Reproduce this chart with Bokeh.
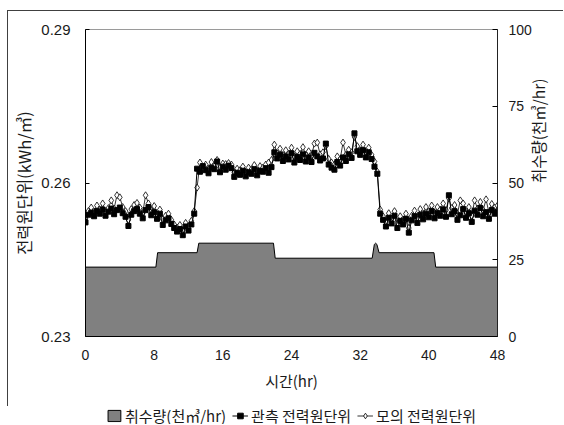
import math

from bokeh.embed import file_html
from bokeh.layouts import column
from bokeh.models import (ColumnDataSource, FixedTicker, Legend, LegendItem,
                          LinearAxis, Range1d)
from bokeh.plotting import figure
from bokeh.resources import INLINE

# Power-unit records, one value every 20 minutes over 48 hours (kWh/m3)
step_minutes = 20

observed = [
    0.2523, 0.2538, 0.2542, 0.2535, 0.2545, 0.2540, 0.2548, 0.2536, 0.2544,
    0.2550, 0.2539, 0.2547, 0.2552, 0.2541, 0.2534, 0.2516, 0.2538, 0.2545,
    0.2549, 0.2540, 0.2531, 0.2547, 0.2553, 0.2537, 0.2543, 0.2530, 0.2540,
    0.2518, 0.2527, 0.2531, 0.2520, 0.2512, 0.2505, 0.2510, 0.2498, 0.2515,
    0.2507, 0.2519, 0.2540, 0.2628, 0.2622, 0.2633, 0.2625, 0.2619, 0.2630,
    0.2627, 0.2642, 0.2621, 0.2632, 0.2626, 0.2634, 0.2629, 0.2612, 0.2620,
    0.2616, 0.2624, 0.2613, 0.2621, 0.2618, 0.2627, 0.2615, 0.2624, 0.2622,
    0.2629, 0.2620, 0.2631, 0.2660, 0.2648, 0.2655, 0.2643, 0.2652, 0.2646,
    0.2658, 0.2640, 0.2651, 0.2645, 0.2656, 0.2642, 0.2650, 0.2641, 0.2659,
    0.2652, 0.2644, 0.2648, 0.2677, 0.2636, 0.2630, 0.2626, 0.2641, 0.2634,
    0.2650, 0.2643, 0.2656, 0.2649, 0.2697, 0.2662, 0.2655, 0.2664, 0.2650,
    0.2660, 0.2647, 0.2632, 0.2618, 0.2540, 0.2528, 0.2515, 0.2532, 0.2521,
    0.2536, 0.2512, 0.2526, 0.2519, 0.2530, 0.2503, 0.2527, 0.2535, 0.2522,
    0.2538, 0.2529, 0.2540, 0.2533, 0.2545, 0.2531, 0.2541, 0.2536, 0.2548,
    0.2534, 0.2576, 0.2539, 0.2545, 0.2528, 0.2537, 0.2549, 0.2532, 0.2541,
    0.2524, 0.2546, 0.2538, 0.2551, 0.2535, 0.2543, 0.2530, 0.2547, 0.2540,
    0.2544,
]

simulated = [
    0.2530, 0.2545, 0.2552, 0.2544, 0.2556, 0.2548, 0.2560, 0.2543, 0.2551,
    0.2566, 0.2550, 0.2576, 0.2572, 0.2553, 0.2545, 0.2528, 0.2549, 0.2557,
    0.2561, 0.2552, 0.2541, 0.2576, 0.2560, 0.2547, 0.2555, 0.2539, 0.2548,
    0.2529, 0.2536, 0.2540, 0.2528, 0.2519, 0.2513, 0.2518, 0.2507, 0.2522,
    0.2515, 0.2526, 0.2545, 0.2591, 0.2640, 0.2628, 0.2636, 0.2627, 0.2641,
    0.2633, 0.2645, 0.2630, 0.2638, 0.2637, 0.2639, 0.2636, 0.2620, 0.2628,
    0.2625, 0.2632, 0.2621, 0.2630, 0.2627, 0.2635, 0.2624, 0.2633, 0.2630,
    0.2636, 0.2640, 0.2645, 0.2675, 0.2658, 0.2667, 0.2655, 0.2664, 0.2657,
    0.2669, 0.2652, 0.2662, 0.2657, 0.2670, 0.2655, 0.2662, 0.2653, 0.2677,
    0.2679, 0.2656, 0.2660, 0.2672, 0.2647, 0.2640, 0.2636, 0.2652, 0.2646,
    0.2679, 0.2655, 0.2665, 0.2660, 0.2690, 0.2672, 0.2664, 0.2675, 0.2661,
    0.2669, 0.2655, 0.2642, 0.2622, 0.2548, 0.2535, 0.2524, 0.2541, 0.2530,
    0.2545, 0.2520, 0.2535, 0.2528, 0.2540, 0.2512, 0.2536, 0.2546, 0.2533,
    0.2549, 0.2540, 0.2553, 0.2545, 0.2556, 0.2542, 0.2553, 0.2548, 0.2560,
    0.2547, 0.2570, 0.2551, 0.2557, 0.2540, 0.2566, 0.2560, 0.2544, 0.2553,
    0.2536, 0.2566, 0.2550, 0.2563, 0.2547, 0.2568, 0.2542, 0.2559, 0.2552,
    0.2556,
]

hours = [i * step_minutes / 60 for i in range(len(observed))]

# Water intake (thousand m3/hr), break points of the stepped profile
flow_hours = [0, 8.2, 8.4, 13.0, 13.2, 21.9, 22.1, 33.4, 33.65, 33.8, 33.95,
              34.2, 40.6, 40.8, 48]
flow_values = [22.6, 22.6, 27.3, 27.3, 30.4, 30.4, 25.5, 25.5, 30.0, 30.4,
               30.0, 27.3, 27.3, 22.6, 22.6]

hour_ticks = [0, 8, 16, 24, 32, 40, 48]
power_ticks = [0.23, 0.26, 0.29]
flow_ticks = [0, 25, 50, 75, 100]

flow_label = "취수량(천㎥/hr)"
obs_label = "관측 전력원단위"
sim_label = "모의 전력원단위"

KO = "Noto Sans CJK KR"
NUM = "Liberation Sans"
INK = "#1a1a1a"

AREA = dict(fill_color="#808080", line_color="black", line_width=1)
OBS_LINE = dict(line_color="black", line_width=1)
OBS_MARK = dict(marker="square", size=5, fill_color="black", line_color="black")
SIM_LINE = dict(line_color="black", line_width=0.8)
SIM_MARK = dict(marker="diamond", size=7, fill_color="white",
                line_color="black", line_width=0.8)

p = figure(
    width=556, height=396,
    min_border_left=77, min_border_right=67,
    min_border_top=18, min_border_bottom=71,
    x_range=Range1d(0, 48), y_range=Range1d(0.23, 0.29),
    output_backend="svg", toolbar_location=None,
)
p.styles = {
    "margin-left": "7px", "margin-top": "10px",
    "border-left": "1px solid #404040", "border-top": "1px solid #404040",
}
p.background_fill_color = "white"
p.border_fill_color = "white"
p.outline_line_color = "#9a9a9a"
p.xgrid.visible = False
p.ygrid.visible = False
p.extra_y_ranges = {"flow": Range1d(0, 100)}

# x axis
xa = p.xaxis[0]
xa.ticker = FixedTicker(ticks=hour_ticks)
xa.major_tick_in = 0
xa.major_tick_out = 0
xa.minor_tick_line_color = None
xa.axis_line_color = "black"
xa.major_label_text_font = NUM
xa.major_label_text_font_size = "14px"
xa.major_label_text_color = INK
xa.major_label_standoff = 13
xa.axis_label = "시간(hr)"
xa.axis_label_text_font = KO
xa.axis_label_text_font_style = "normal"
xa.axis_label_text_font_size = "15px"
xa.axis_label_text_color = INK
xa.axis_label_standoff = 7

# left axis
ya = p.yaxis[0]
ya.ticker = FixedTicker(ticks=power_ticks)
ya.major_tick_in = 4
ya.major_tick_out = 0
ya.minor_tick_line_color = None
ya.axis_line_color = "black"
ya.major_label_text_font = NUM
ya.major_label_text_font_size = "15px"
ya.major_label_text_color = INK
ya.major_label_standoff = 15
ya.axis_label = "전력원단위(kWh/㎥)"
ya.axis_label_text_font = KO
ya.axis_label_text_font_style = "normal"
ya.axis_label_text_font_size = "16.5px"
ya.axis_label_text_color = INK
ya.axis_label_standoff = 2

# right axis for water intake, title reading bottom to top
ra = LinearAxis(y_range_name="flow", ticker=FixedTicker(ticks=flow_ticks))
ra.major_tick_in = 5
ra.major_tick_out = 0
ra.minor_tick_line_color = None
ra.axis_line_color = "#222222"
ra.major_label_text_font = NUM
ra.major_label_text_font_size = "14px"
ra.major_label_text_color = INK
ra.major_label_standoff = 11
ra.axis_label = flow_label
ra.axis_label_text_font = KO
ra.axis_label_text_font_style = "normal"
ra.axis_label_text_font_size = "15.5px"
ra.axis_label_text_color = INK
ra.axis_label_standoff = 3
if "axis_label_orientation" in ra.properties():
    ra.axis_label_orientation = math.pi / 2
p.add_layout(ra, "right")

# water intake area
area_src = ColumnDataSource(dict(
    x=[0] + flow_hours + [48],
    y=[0] + flow_values + [0],
))
p.patch("x", "y", source=area_src, y_range_name="flow", **AREA)

src = ColumnDataSource(dict(t=hours, obs=observed, sim=simulated))
p.line("t", "sim", source=src, **SIM_LINE)
p.scatter("t", "sim", source=src, **SIM_MARK)
p.line("t", "obs", source=src, **OBS_LINE)
p.scatter("t", "obs", source=src, **OBS_MARK)

# legend strip under the chart; its renderers share the chart's styles and
# data, with the strip's ranges set so that only the legend keys show
key = figure(
    width=556, height=18,
    min_border_left=12, min_border_right=0,
    min_border_top=0, min_border_bottom=0,
    x_range=Range1d(0, 1), y_range=Range1d(-2, -1),
    x_axis_location=None, y_axis_location=None,
    output_backend="svg", toolbar_location=None,
)
key.styles = {"margin-left": "8px"}
key.outline_line_color = None
key.xgrid.visible = False
key.ygrid.visible = False
key.border_fill_color = "white"
key.background_fill_color = "white"

k_area = key.patch("x", "y", source=area_src, **AREA)
k_obs_l = key.line("t", "obs", source=src, **OBS_LINE)
k_obs_m = key.scatter("t", "obs", source=src, **OBS_MARK)
k_sim_l = key.line("t", "sim", source=src, **SIM_LINE)
k_sim_m = key.scatter("t", "sim", source=src, **SIM_MARK)

legend = Legend(
    items=[
        LegendItem(label=flow_label, renderers=[k_area]),
        LegendItem(label=obs_label, renderers=[k_obs_l, k_obs_m]),
        LegendItem(label=sim_label, renderers=[k_sim_l, k_sim_m]),
    ],
    orientation="horizontal", location="center",
    label_text_font=KO, label_text_font_size="15px", label_text_color=INK,
    label_height=16, glyph_width=16, glyph_height=14,
    label_standoff=3, spacing=6,
    padding=0, margin=0, border_line_color=None, background_fill_alpha=0,
)
key.add_layout(legend, "center")

layout = column(p, key, spacing=0)
open("out.html", "w").write(file_html(layout, INLINE))
